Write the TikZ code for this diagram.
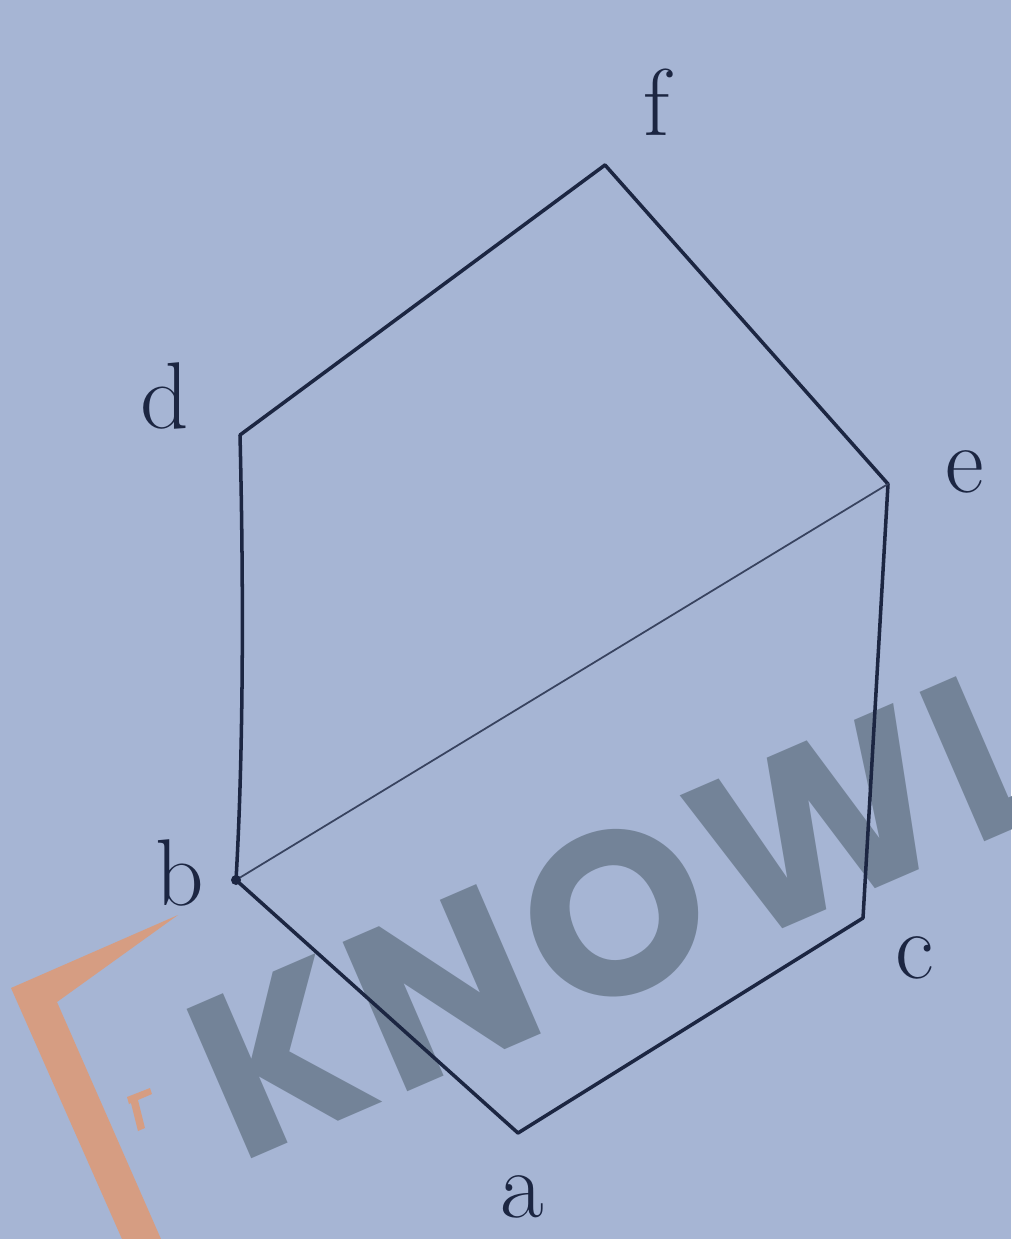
\documentclass[tikz,border=0pt]{standalone}
\usepackage{fontspec}
\newfontfamily\wmfont{Poppins}[LetterSpace=4]
\definecolor{bg}{RGB}{166,181,212}
\definecolor{ink}{RGB}{28,38,66}
\definecolor{wm}{RGB}{115,131,152}
\definecolor{wmorange}{RGB}{214,157,130}
\tikzset{
  edge/.style={draw=ink, line width=2pt, line cap=round, line join=round},
  thinedge/.style={draw=ink!80!bg, line width=1pt, line cap=round},
  vlabel/.style={text=ink, inner sep=0pt, font=\fontsize{54}{58}\selectfont},
}
\begin{document}
\begin{tikzpicture}[x=0.02cm,y=-0.02cm]
\fill[bg] (0,0) rectangle (1011,1239);
\useasboundingbox (0,0) rectangle (1011,1239);
\begin{scope}
\clip (0,0) rectangle (1011,1239);
% watermark
\node[anchor=base west, rotate=23.4, text=wm, inner sep=0pt,
      font=\wmfont\bfseries\fontsize{132}{132}\selectfont] (wmtext) at (238,1165) {KNOWL};
\fill[wmorange] (178,915) -- (11,988) -- (122,1239) -- (161,1239) -- (57,1002) -- cycle;
\fill[wmorange] (127,1097) -- (150,1088) -- (152,1094) -- (138,1100) -- (145,1128) -- (138,1131) -- (131,1103) -- (129,1104) -- cycle;
\end{scope}
% vertices
\coordinate (f) at (605,165);
\coordinate (d) at (240,435);
\coordinate (e) at (888,484);
\coordinate (b) at (236,880);
\coordinate (c) at (863,918);
\coordinate (a) at (518,1133);
% edges
\draw[edge] (f) -- (d);
\draw[edge] (f) -- (e);
\draw[edge] (d) .. controls (244,600) and (243,760) .. (b);
\draw[edge] (e) -- (c);
\draw[edge] (c) -- (a);
\draw[edge] (a) -- (b);
\draw[thinedge] (b) -- (e);
\fill[ink] (b) circle (5);
% labels
\node[vlabel] (lf) at (657,102) {f};
\node[vlabel] (ld) at (165,396) {d};
\node[vlabel] (le) at (965,472) {e};
\node[vlabel] (lb) at (180,873) {b};
\node[vlabel] (lc) at (915,958) {c};
\node[vlabel] (la) at (522,1197) {a};
\end{tikzpicture}
\end{document}
